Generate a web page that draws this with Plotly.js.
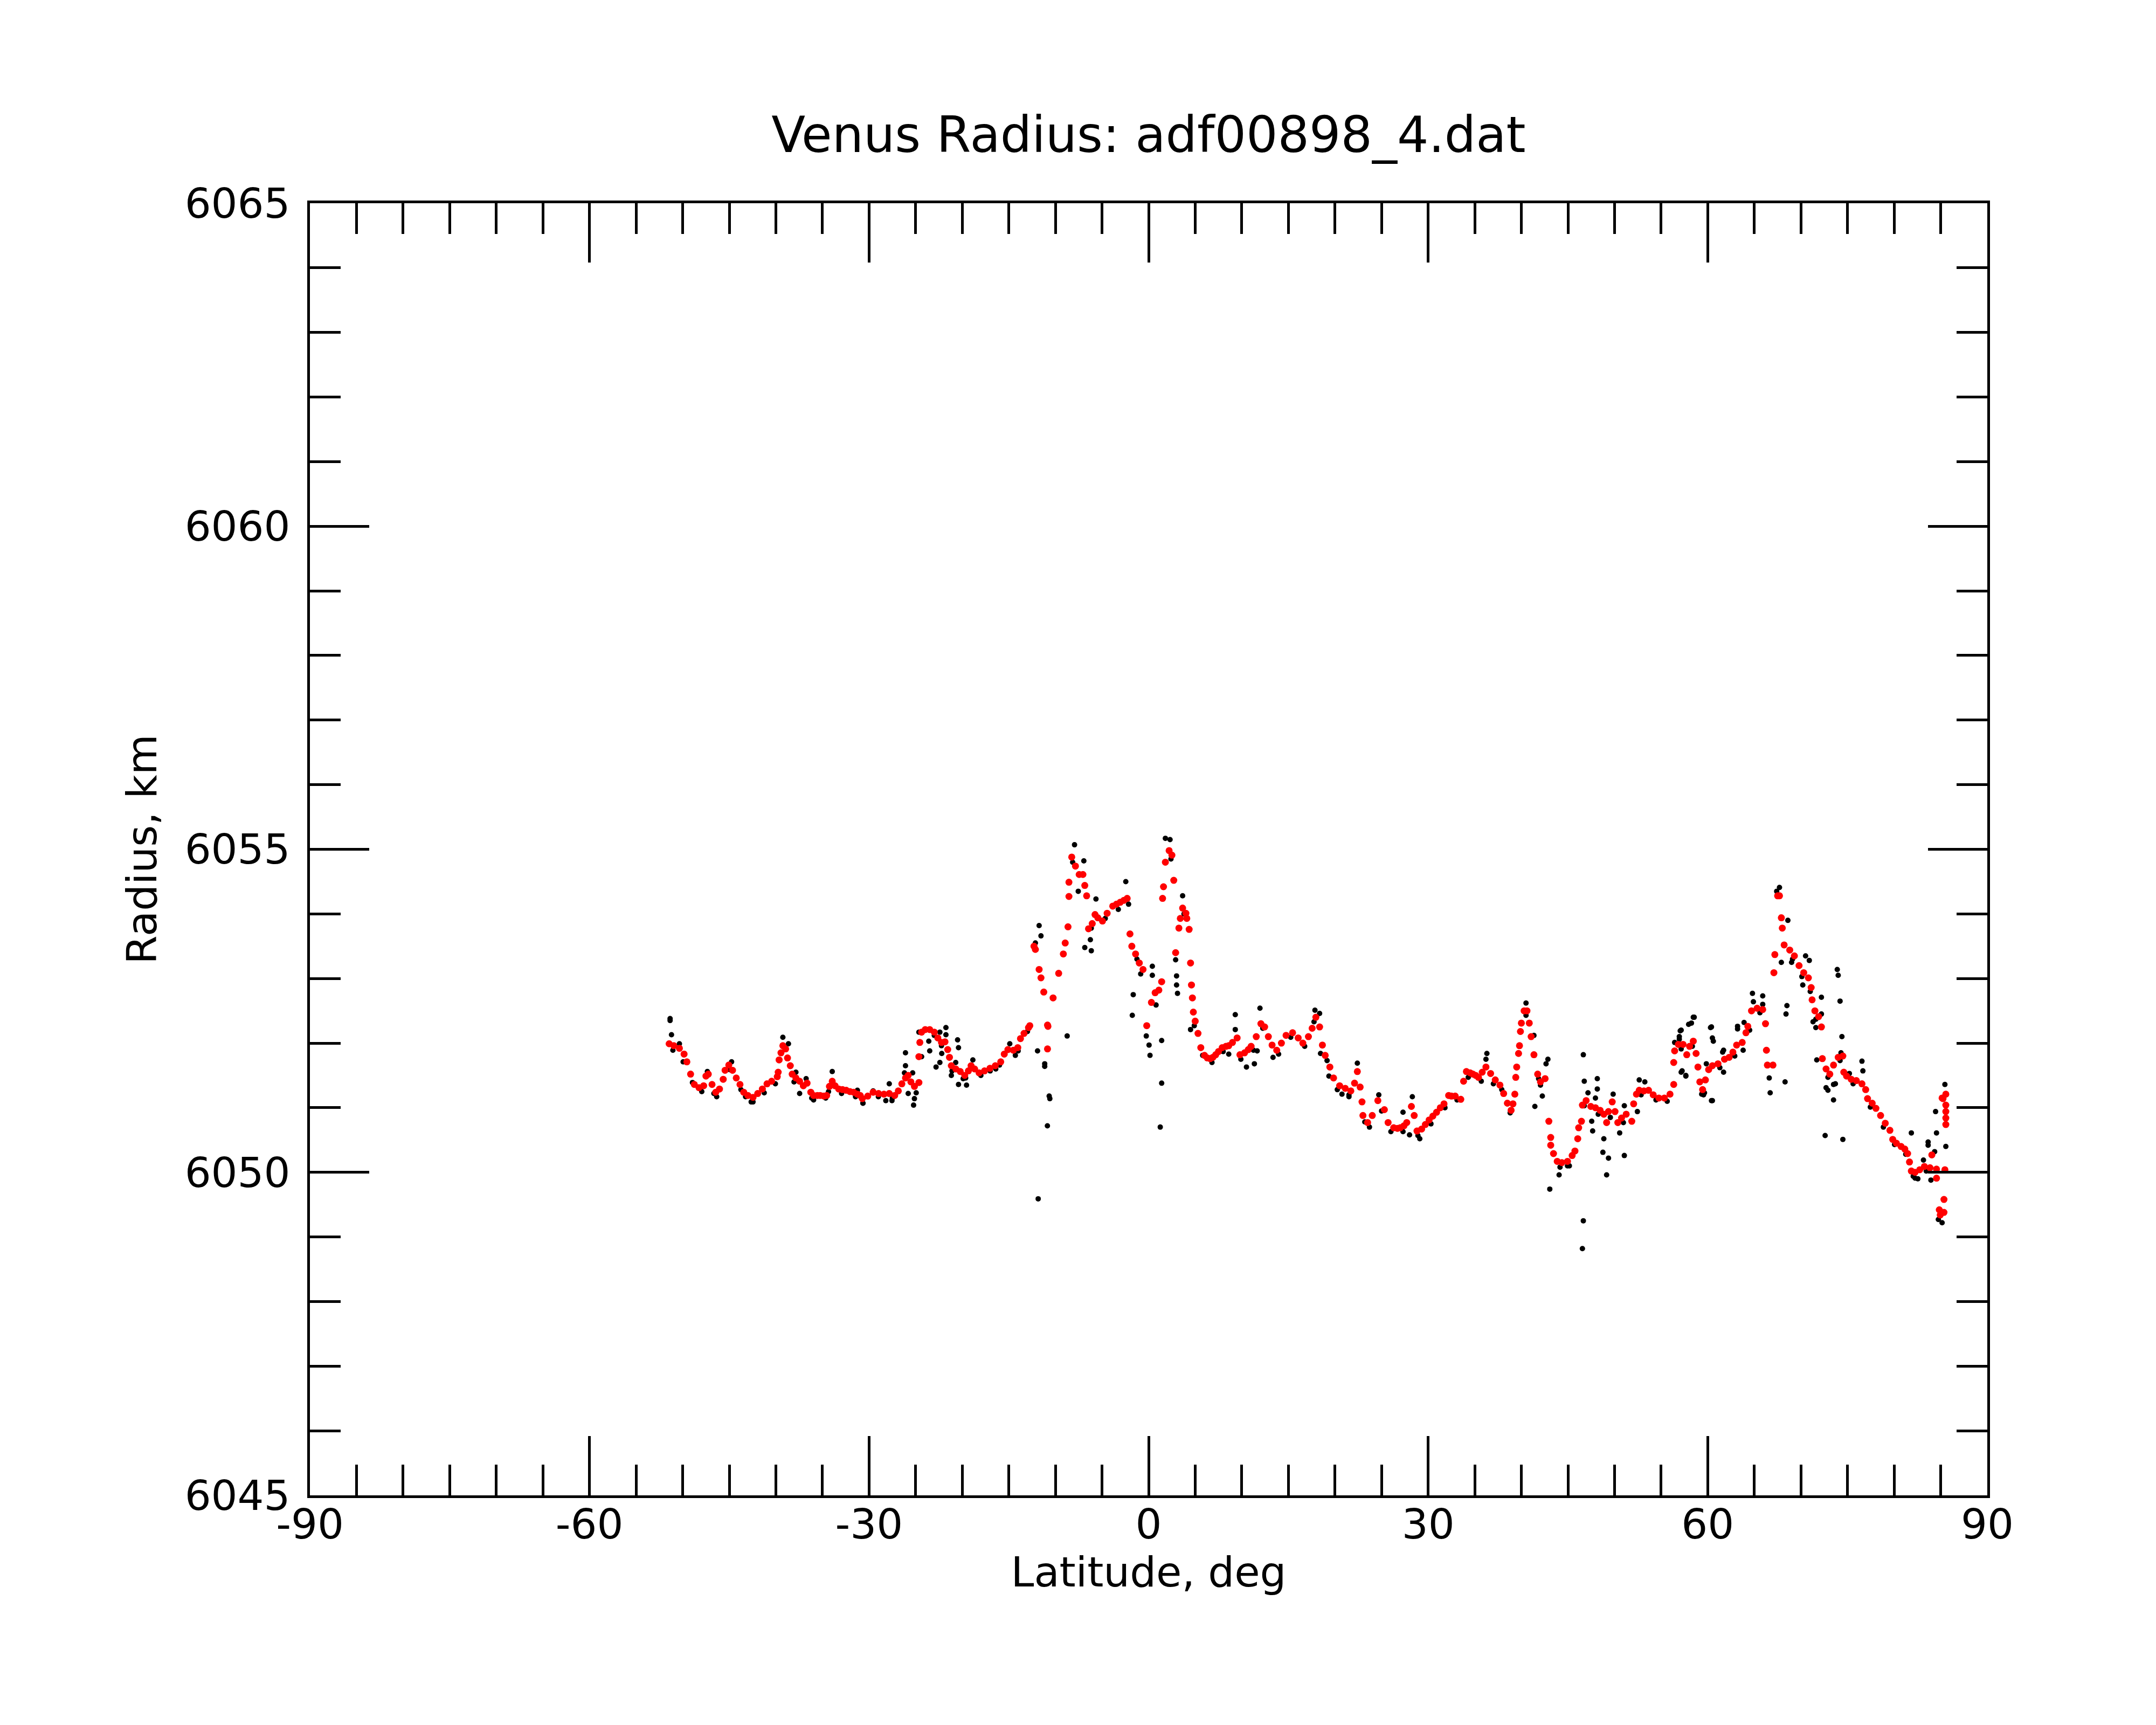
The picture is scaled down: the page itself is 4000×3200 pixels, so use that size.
<!DOCTYPE html>
<html>
<head>
<meta charset="utf-8">
<script src="https://cdn.plot.ly/plotly-3.0.1.min.js"></script>
<style>
  body { margin: 0; background: white; }
  #grafico { width: 4000px; height: 3200px; }
</style>
</head>
<body>
<div id="grafico"></div>
<script>
// red points (smoothed profile)
var redLat = [-51.45,-50.95,-50.35,-49.85,-49.55,-49.15,-48.75,-48.25,-47.75,-47.5,-47.25,-46.85,-46.45,-46.05,-45.65,-45.45,-45.05,-44.65,-44.25,-43.85,
  -43.45,-43.0,-42.45,-41.95,-41.45,-40.95,-40.45,-39.85,-39.75,-39.65,-39.45,-39.25,-38.95,-38.75,-38.45,-38.25,-37.85,-37.45,-37.05,-36.65,
  -36.25,-35.95,-35.55,-35.25,-34.85,-34.55,-34.25,-33.95,-33.65,-33.25,-32.85,-32.45,-32.05,-31.65,-31.25,-30.95,
  -30.72,-30.14,-29.56,-28.98,-28.4,-27.83,-27.25,-26.86,-26.48,-26.09,-25.8,-25.51,-25.13,-24.65,-24.65,-24.55,-24.36,-23.97,-23.49,-23.0,
  -22.62,-22.23,-21.85,-21.56,-21.37,-21.17,-20.69,-20.21,-19.73,-19.34,-19.05,-18.67,-18.19,-17.61,-17.03,-16.45,-15.87,-15.49,-15.1,-14.52,
  -14.04,-13.75,-13.37,-12.89,-12.75,-12.3,-12.15,-11.75,-11.55,-11.25,-10.85,-10.85,-10.8,-10.25,-9.65,-9.15,-8.95,-8.65,-8.55,-8.55,
  -8.25,-7.85,-7.45,-7.05,-6.85,-6.65,-6.45,-6.05,-5.75,-5.45,-4.95,-4.45,-3.85,-3.45,-3.05,-2.65,-2.3,-2.0,-1.8,-1.4,
  -1.0,-0.6,-0.2,0.3,0.7,1.1,1.4,1.5,1.6,1.8,2.2,2.5,2.7,2.9,3.25,3.4,3.65,4.0,4.1,4.35,
  4.5,4.6,4.7,4.8,5.0,5.3,5.6,6.0,6.3,6.6,6.9,7.2,7.5,7.9,8.3,8.6,9.0,9.5,9.8,10.3,
  10.7,11.0,11.55,12.05,12.45,12.85,13.25,13.75,14.25,14.75,15.45,16.05,16.55,17.15,17.55,17.95,18.35,18.65,18.95,19.45,
  19.85,20.5,21.1,21.7,22.1,22.4,22.7,22.9,23.0,23.5,24.0,24.6,25.3,25.7,26.3,26.7,27.0,27.4,27.7,28.2,
  28.5,28.8,29.3,29.7,30.1,30.5,30.9,31.3,31.7,32.2,32.5,32.9,33.5,33.8,34.1,34.5,34.8,35.1,35.4,35.8,
  36.2,36.7,37.2,37.7,38.1,38.5,38.9,39.1,39.3,39.4,39.5,39.7,39.8,39.9,40.0,40.3,40.6,40.85,41.05,41.35,
  41.75,42.05,42.55,42.95,43.15,43.15,43.45,43.85,44.35,44.95,45.45,45.75,46.05,46.15,46.45,46.55,46.95,47.45,47.95,48.45,
  48.85,49.15,49.35,49.75,50.05,50.35,50.75,51.25,51.85,52.05,52.35,52.65,53.15,53.65,54.15,54.75,55.35,55.95,56.35,56.35,
  56.45,56.85,57.35,57.75,58.05,58.45,58.75,58.95,59.15,59.45,59.75,60.1,60.5,61.1,61.8,62.3,62.7,63.1,63.7,64.1,
  64.3,64.7,65.3,65.9,66.2,66.3,66.4,67.0,67.1,67.2,67.5,67.7,67.9,68.0,68.2,68.8,69.3,69.8,70.3,70.8,
  71.1,71.2,71.5,71.9,72.2,72.3,72.7,73.1,73.5,74.0,74.5,74.6,74.9,75.4,75.95,76.55,76.95,77.15,77.65,78.05,
  78.55,79.05,79.55,79.85,80.25,80.75,81.15,81.45,81.65,81.85,82.25,82.75,83.25,83.85,84.05,84.55,84.55,84.85,84.95,85.15,
  85.25,85.35,85.35,85.45,85.55,85.55,85.55,85.55,85.55];
var redRadius = [6051.99,6051.96,6051.92,6051.83,6051.71,6051.52,6051.36,6051.31,6051.34,6051.49,6051.52,6051.36,6051.24,6051.29,6051.44,6051.58,6051.66,6051.58,6051.46,6051.36,
  6051.24,6051.19,6051.16,6051.22,6051.29,6051.37,6051.41,6051.48,6051.55,6051.74,6051.85,6051.96,6051.91,6051.77,6051.65,6051.52,6051.46,6051.41,6051.34,6051.38,
  6051.24,6051.19,6051.19,6051.19,6051.18,6051.19,6051.33,6051.41,6051.34,6051.29,6051.28,6051.27,6051.25,6051.24,6051.21,6051.19,
  6051.14,6051.18,6051.24,6051.22,6051.21,6051.22,6051.19,6051.26,6051.37,6051.46,6051.50,6051.40,6051.33,6051.39,6051.79,6052.01,6052.17,6052.21,6052.21,6052.17,
  6052.08,6052.01,6052.02,6051.90,6051.78,6051.65,6051.60,6051.56,6051.50,6051.57,6051.65,6051.60,6051.54,6051.57,6051.61,6051.65,6051.71,6051.83,6051.90,6051.89,
  6051.93,6052.07,6052.15,6052.24,6052.27,6053.50,6053.45,6053.14,6053.01,6052.79,6052.28,6051.91,6052.26,6052.70,6053.08,6053.38,6053.55,6053.80,6054.27,6054.49,
  6054.88,6054.74,6054.61,6054.61,6054.44,6054.28,6053.77,6053.85,6053.99,6053.94,6053.89,6054.01,6054.12,6054.15,6054.18,6054.21,6054.24,6053.69,6053.50,6053.38,
  6053.24,6053.14,6052.27,6052.63,6052.78,6052.82,6052.95,6054.24,6054.42,6054.80,6054.98,6054.91,6054.52,6053.40,6053.78,6053.93,6054.09,6054.01,6053.93,6053.76,
  6053.24,6052.90,6052.70,6052.48,6052.34,6052.15,6051.93,6051.81,6051.77,6051.76,6051.78,6051.82,6051.87,6051.93,6051.95,6051.96,6052.01,6052.08,6051.82,6051.85,
  6051.90,6051.95,6052.10,6052.30,6052.25,6052.10,6051.97,6051.89,6052.00,6052.12,6052.16,6052.08,6052.00,6052.10,6052.23,6052.40,6052.25,6051.97,6051.81,6051.63,
  6051.46,6051.34,6051.30,6051.26,6051.38,6051.56,6051.32,6051.09,6050.88,6050.77,6050.88,6051.11,6050.97,6050.77,6050.69,6050.68,6050.69,6050.72,6050.77,6051.02,
  6050.88,6050.64,6050.67,6050.74,6050.81,6050.87,6050.93,6051.00,6051.06,6051.19,6051.18,6051.18,6051.13,6051.41,6051.56,6051.54,6051.52,6051.50,6051.47,6051.55,
  6051.63,6051.53,6051.43,6051.35,6051.22,6051.07,6050.96,6051.06,6051.21,6051.47,6051.63,6051.84,6051.96,6052.18,6052.31,6052.50,6052.50,6052.31,6052.10,6051.82,
  6051.52,6051.40,6051.45,6050.79,6050.54,6050.42,6050.29,6050.17,6050.15,6050.17,6050.26,6050.33,6050.52,6050.69,6050.79,6051.04,6051.11,6051.02,6051.00,6050.96,
  6050.90,6050.77,6050.94,6051.09,6050.94,6050.77,6050.84,6050.90,6050.79,6051.06,6051.21,6051.27,6051.26,6051.27,6051.20,6051.15,6051.15,6051.21,6051.36,6051.70,
  6051.88,6051.98,6051.98,6051.82,6051.95,6052.03,6051.84,6051.63,6051.40,6051.28,6051.43,6051.59,6051.65,6051.68,6051.75,6051.78,6051.86,6051.97,6052.01,6052.16,
  6052.26,6052.50,6052.54,6052.52,6052.30,6051.89,6051.66,6051.66,6053.09,6053.37,6054.28,6054.28,6053.94,6053.78,6053.52,6053.44,6053.35,6053.20,6053.09,6053.01,
  6052.86,6052.67,6052.50,6052.41,6052.25,6051.76,6051.60,6051.52,6051.66,6051.78,6051.80,6051.55,6051.49,6051.44,6051.42,6051.37,6051.28,6051.14,6051.07,6050.99,
  6050.88,6050.76,6050.65,6050.51,6050.45,6050.40,6050.36,6050.29,6050.16,6050.02,6050.00,6050.04,6050.09,6050.07,6050.27,6050.05,6049.91,6049.42,6049.34,6051.15,
  6051.14,6049.58,6049.38,6050.04,6050.74,6050.84,6050.94,6051.04,6051.21];

// black points (raw measurements)
var blackLat = [-51.05,-48.95,-47.95,-46.35,-44.95,-43.75,-42.65,-41.25,-40.05,-38.05,-36.15,-34.35,-32.95,-31.45,
  -29.0,-27.5,-23.0,-19.9,-18.0,-16.0,-14.0,-13.0,
  -8.15,-6.15,-4.65,-3.25,-2.15,-1.25,-0.85,2.4,3.8,4.9,5.8,6.8,8.0,9.9,11.25,12.25,13.95,15.25,
  16.75,17.75,19.15,20.25,21.5,23.2,23.7,25.0,26.0,27.3,28.9,30.3,31.8,33.1,34.3,35.7,37.0,37.9,38.8,40.5,
  41.85,44.15,45.15,46.75,48.25,49.55,50.95,52.85,54.45,55.65,57.15,58.35,59.65,61.3,62.9,64.5,65.6,69.1,70.1,71.0,
  71.6,72.9,74.2,75.6,77.45,78.85,80.05,81.25,82.05,83.45,
  -51.35,-51.35,-51.2,-50.35,-49.95,-47.35,-46.65,-44.75,-42.45,-43.25,-39.25,-38.65,-37.85,-37.45,-36.75,-35.95,-34.65,-33.95,-31.25,-30.65,
  -30.66,-29.56,-28.2,-27.83,-27.54,-26.09,-26.09,-26.2,-25.32,-25.8,-24.94,-25.13,-25.22,-24.36,-24.65,-23.59,-23.49,-21.75,-21.75,-22.4,
  -22.23,-22.81,-22.4,-22.2,-20.5,-20.4,-20.7,-21.17,-21.1,-20.4,-19.54,-19.63,-18.86,-17.0,-16.4,-14.9,-14.3,-11.92,-11.15,-11.15,
  -10.67,-10.6,-10.86,-8.74,
  -11.75,-11.55,-12.15,-11.85,-7.95,-6.95,-7.55,-6.85,-6.15,-6.25,-5.65,-2.45,-1.65,-1.75,0.4,0.4,0.8,-0.25,0.05,0.15,
  1.4,1.4,1.25,1.8,2.3,2.9,3.0,3.0,3.1,3.65,4.5,9.3,9.3,8.6,10.5,11.35,11.65,11.95,13.35,17.85,
  18.35,18.45,19.35,22.4,20.75,21.5,
  24.7,28.3,28.0,29.1,27.3,36.3,36.2,40.5,41.35,42.85,42.65,41.45,42.25,42.05,43.05,44.05,44.95,46.65,46.75,47.15,
  46.65,46.55,47.55,47.65,48.15,48.15,47.95,48.85,48.75,49.35,49.15,49.85,50.55,51.05,51.05,52.45,52.65,53.25,57.05,56.95,
  57.95,58.45,57.25,57.65,60.3,60.6,60.5,59.55,61.7,61.7,
  67.7,67.4,68.6,67.9,68.5,68.4,68.3,69.0,70.5,70.9,70.2,72.2,72.2,71.3,71.6,71.7,72.7,72.9,73.5,73.5,
  72.6,73.9,74.0,74.2,74.4,74.3,74.5,73.7,75.2,76.55,76.65,81.85,83.65,83.65,83.15,84.45,84.55,84.35,85.45,85.55,
  85.15,84.75,83.95,82.25,82.55,58.55,58.25,57.15,56.95,56.45,57.15,57.65,60.4,60.5,60.4,59.85,59.35,61.6,63.2,63.2,
  63.9,64.8,64.9,65.9,65.9,66.6,66.7,63.8];
var blackRadius = [6051.89,6051.39,6051.25,6051.17,6051.59,6051.28,6051.09,6051.23,6051.37,6051.40,6051.15,6051.25,6051.22,6051.17,
  6051.17,6051.15,6052.12,6051.45,6051.50,6051.66,6051.88,6052.18,
  6054.80,6053.78,6053.93,6054.07,6054.15,6053.30,6053.07,6054.85,6054.00,6052.27,6051.81,6051.70,6051.87,6051.75,6051.89,6052.23,6051.83,6052.09,
  6051.95,6052.33,6051.73,6051.28,6051.20,6050.78,6050.70,6050.95,6050.63,6050.63,6050.57,6050.75,6051.00,6051.12,6051.47,6051.41,6051.37,6051.28,6050.92,6052.43,
  6051.45,6050.08,6050.10,6051.03,6050.90,6050.85,6050.77,6051.20,6051.12,6051.10,6051.91,6051.95,6051.23,6051.62,6051.80,6052.20,6052.47,6053.30,6053.03,6052.80,
  6052.37,6051.47,6051.73,6051.37,6051.01,6050.70,6050.43,6050.28,6049.94,6050.02,
  6052.38,6052.35,6052.13,6051.99,6051.71,6051.56,6051.22,6051.71,6051.09,6051.17,6052.09,6051.99,6051.55,6051.22,6051.45,6051.12,6051.15,6051.56,6051.27,6051.07,
  6051.07,6051.26,6051.11,6051.37,6051.11,6051.85,6051.65,6051.54,6051.54,6051.22,6051.23,6051.14,6051.04,6051.79,6052.17,6052.03,6051.88,6052.24,6052.13,6052.17,
  6051.96,6051.63,6051.70,6051.84,6052.05,6051.93,6051.70,6051.50,6051.57,6051.36,6051.35,6051.46,6051.74,6051.57,6051.60,6051.99,6051.81,6051.88,6051.68,6051.64,
  6051.18,6051.14,6050.72,6052.11,
  6053.82,6053.66,6053.55,6049.59,6055.07,6054.82,6054.35,6053.48,6053.43,6053.60,6054.23,6054.50,6052.75,6052.43,6053.19,6053.05,6052.59,6052.11,6051.97,6051.81,
  6052.04,6051.38,6050.70,6055.17,6055.15,6053.29,6053.04,6052.90,6052.77,6054.28,6052.21,6052.44,6052.21,6051.83,6051.63,6051.68,6051.88,6052.54,6051.78,6052.51,
  6052.46,6051.84,6051.49,6051.69,6051.21,6051.17,
  6051.20,6051.17,6050.58,6050.52,6050.93,6051.84,6051.75,6052.62,6052.12,6051.75,6051.68,6051.02,6051.18,6051.35,6049.74,6049.96,6050.10,6051.82,6051.41,6051.23,
  6049.25,6048.82,6050.79,6050.64,6051.45,6051.29,6051.15,6050.52,6050.31,6050.22,6049.96,6051.21,6050.61,6051.03,6050.26,6050.94,6051.43,6051.40,6052.19,6052.06,
  6052.29,6052.40,6051.57,6051.50,6052.24,6052.03,6051.11,6051.20,6051.89,6051.55,
  6054.41,6054.35,6053.90,6053.25,6052.58,6052.45,6051.40,6053.25,6053.35,6053.28,6052.90,6052.71,6052.45,6052.33,6052.24,6051.74,6051.31,6051.27,6051.36,6051.12,
  6050.57,6053.14,6053.05,6052.65,6052.10,6051.85,6050.51,6051.37,6051.53,6051.72,6051.57,6050.61,6050.47,6050.42,6050.19,6050.94,6050.61,6050.32,6051.36,6050.40,
  6049.22,6049.27,6049.88,6049.91,6049.90,6052.40,6052.31,6052.20,6052.10,6052.01,6051.55,6051.49,6052.25,6052.08,6051.11,6051.68,6051.21,6051.86,6052.22,6052.26,
  6052.32,6052.77,6052.64,6052.73,6052.60,6051.46,6051.23,6051.89];

// axis labels
var latTicks = [-90, -60, -30, 0, 30, 60, 90];
var latLabels = ['-90', '-60', '-30', '0', '30', '60', '90'];
var radTicks = [6045, 6050, 6055, 6060, 6065];
var radLabels = ['6045', '6050', '6055', '6060', '6065'];

var espacio = document.getElementById('grafico');

var negro = {
  x: blackLat,
  y: blackRadius,
  type: 'scatter',
  mode: 'markers',
  marker: { color: 'black', size: 10 },
  hoverinfo: 'skip'
};

var rojo = {
  x: redLat,
  y: redRadius,
  type: 'scatter',
  mode: 'markers',
  marker: { color: 'red', size: 13 },
  hoverinfo: 'skip'
};

var fuente = { family: 'DejaVu Sans', size: 77, color: 'black' };

var layout = {
  width: 4000,
  height: 3200,
  showlegend: false,
  paper_bgcolor: 'white',
  plot_bgcolor: 'white',
  margin: { l: 575, r: 313, t: 377, b: 426 },
  title: {
    text: 'Venus Radius: adf00898_4.dat',
    font: { family: 'DejaVu Sans', size: 92, color: 'black' },
    x: 0.5, xref: 'paper', xanchor: 'center',
    y: 1 - 250 / 3200, yref: 'container', yanchor: 'middle'
  },
  xaxis: {
    range: [-90, 90],
    tickmode: 'array',
    tickvals: latTicks,
    ticktext: latLabels,
    ticks: 'inside',
    ticklen: 110,
    tickwidth: 5,
    tickcolor: 'black',
    ticklabelstandoff: -17,
    minor: { tickmode: 'linear', tick0: -90, dtick: 5, ticks: 'inside', ticklen: 57, tickwidth: 5, tickcolor: 'black', showgrid: false },
    showline: true,
    linewidth: 5,
    linecolor: 'black',
    mirror: 'allticks',
    showgrid: false,
    zeroline: false,
    tickfont: fuente,
    title: { text: 'Latitude, deg', font: fuente, standoff: 0 }
  },
  yaxis: {
    range: [6045, 6065],
    tickmode: 'array',
    tickvals: radTicks,
    ticktext: radLabels,
    ticks: 'inside',
    ticklen: 110,
    tickwidth: 5,
    tickcolor: 'black',
    ticklabelstandoff: 16,
    minor: { tickmode: 'linear', tick0: 6045, dtick: 1, ticks: 'inside', ticklen: 57, tickwidth: 5, tickcolor: 'black', showgrid: false },
    showline: true,
    linewidth: 5,
    linecolor: 'black',
    mirror: 'allticks',
    showgrid: false,
    zeroline: false,
    tickfont: fuente,
    title: { text: 'Radius, km', font: fuente, standoff: 28 }
  }
};

Plotly.newPlot(espacio, [negro, rojo], layout, { staticPlot: true });
</script>
</body>
</html>
